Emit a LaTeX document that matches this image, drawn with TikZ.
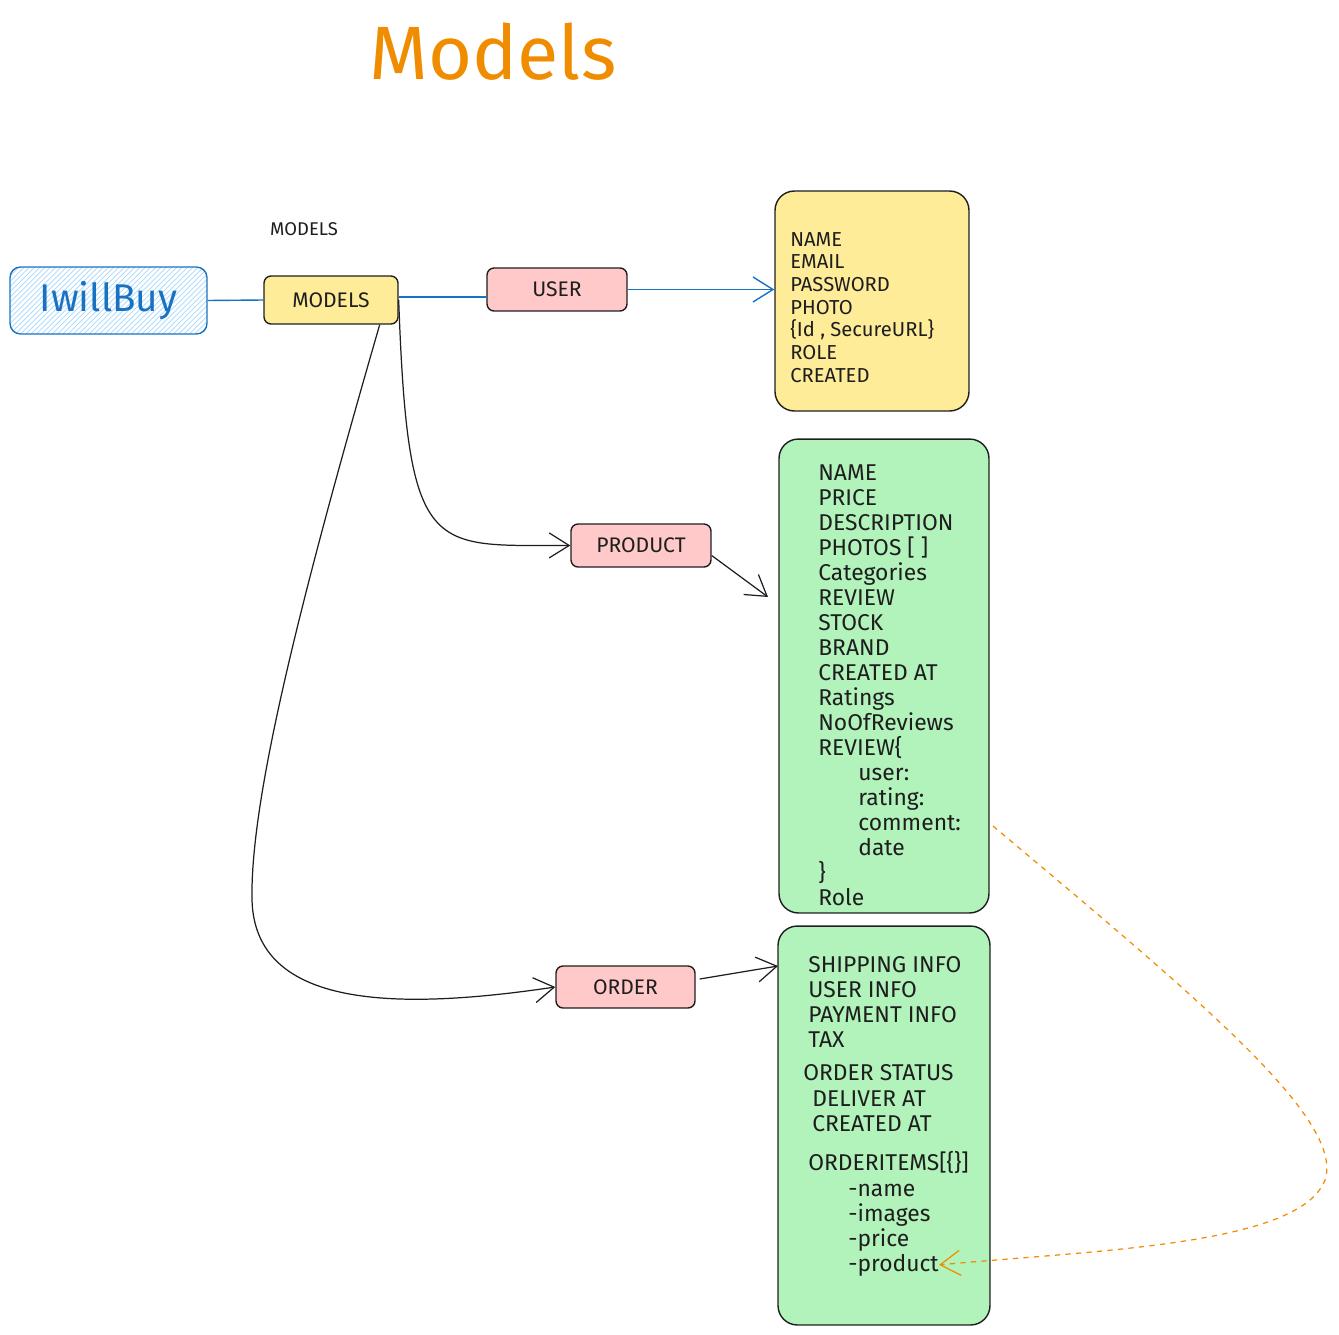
\documentclass[tikz,border=0pt]{standalone}
\usepackage{fontspec}
\setmainfont{Fira Sans}
\usetikzlibrary{arrows.meta,patterns}

\definecolor{ink}{HTML}{1E1E1E}
\definecolor{skyblue}{HTML}{1971C2}
\definecolor{skyhatch}{HTML}{A5D8FF}
\definecolor{noteyellow}{HTML}{FFEC99}
\definecolor{notepink}{HTML}{FFC9C9}
\definecolor{notegreen}{HTML}{B2F2BB}
\definecolor{titleorange}{HTML}{F08C00}

\tikzset{
  tag/.style={draw=ink, line width=0.8pt, rounded corners=4pt, inner sep=0pt,
    font=\fontsize{12}{14}\selectfont, text=ink},
  sheet/.style={draw=ink, line width=0.8pt, rounded corners=11pt, inner sep=0pt},
  field/.style={anchor=base west, inner sep=0pt, text=ink},
  barb/.style={-{Straight Barb[length=4mm,width=5mm]}},
  link/.style={draw=ink, line width=0.7pt, barb},
}

\begin{document}
\begin{tikzpicture}[x=0.02cm, y=-0.02cm]
  \useasboundingbox (0,0) rectangle (1339,1335);

  % titulo
  \node[text=titleorange, font=\fontsize{43}{50}\selectfont] (title) at (493,52) {Models};
  \node[text=ink, font=\fontsize{10.5}{12}\selectfont] (caption) at (304,229) {MODELS};

  % cajas principales
  \node[draw=skyblue, line width=0.8pt, rounded corners=6pt, pattern=north east lines,
        pattern color=skyhatch, minimum width=3.94cm, minimum height=1.34cm,
        text=skyblue, font=\fontsize{22}{26}\selectfont] (shop) at (108.5,300.5) {IwillBuy};
  \node[tag, fill=noteyellow, minimum width=2.68cm, minimum height=0.96cm] (models) at (331,300) {MODELS};
  \node[tag, fill=notepink, minimum width=2.8cm, minimum height=0.86cm] (user) at (557,289.5) {USER};
  \node[tag, fill=notepink, minimum width=2.8cm, minimum height=0.86cm] (product) at (641,545.5) {PRODUCT};
  \node[tag, fill=notepink, minimum width=2.78cm, minimum height=0.84cm] (order) at (625.5,987) {ORDER};

  % hojas de campos
  \node[sheet, fill=noteyellow, minimum width=3.88cm, minimum height=4.4cm] (userfields) at (872,301) {};
  \node[sheet, fill=notegreen, minimum width=4.2cm, minimum height=9.48cm] (productfields) at (884,676) {};
  \node[sheet, fill=notegreen, minimum width=4.24cm, minimum height=7.98cm] (orderfields) at (884,1125.5) {};

  % campos de USER
  \foreach \txt [count=\i] in {NAME, EMAIL, PASSWORD, PHOTO, {\{Id , SecureURL\}}, ROLE, CREATED}
    \node[field, font=\fontsize{11.5}{13}\selectfont] (u\i) at (790,{223.3+22.7*\i}) {\txt};

  % campos de PRODUCT
  \foreach \txt [count=\i] in {NAME, PRICE, DESCRIPTION, {PHOTOS [ ]}, Categories, REVIEW, STOCK, BRAND,
      CREATED AT, Ratings, NoOfReviews, REVIEW\{, {\hspace*{0.8cm}user:}, {\hspace*{0.8cm}rating:},
      {\hspace*{0.8cm}comment:}, {\hspace*{0.8cm}date}, \}, Role}
    \node[field, font=\fontsize{13}{15}\selectfont] (p\i) at (818,{455+25*\i}) {\txt};

  % campos de ORDER
  \foreach \x/\y/\txt [count=\i] in {808/972/SHIPPING INFO, 808/997/USER INFO, 808/1022/PAYMENT INFO,
      808/1047/TAX, 803/1080/ORDER STATUS, 812/1106/DELIVER AT, 812/1131/CREATED AT,
      808/1170/{ORDERITEMS[\{\}]}, 848/1196/-name, 848/1221/-images, 848/1246/-price, 848/1271/-product}
    \node[field, font=\fontsize{13}{15}\selectfont] (o\i) at (\x,\y) {\txt};

  % conexiones
  \draw[skyblue, line width=0.8pt] (shop.east) -- (models.west);
  \draw[skyblue, line width=0.8pt] ([yshift=0.06cm]models.east) -- ([yshift=0.06cm]models.east -| user.west);
  \draw[skyblue, line width=0.8pt, barb] (user.east) -- (user.east -| userfields.west);

  \draw[link] (models.east) .. controls (408,560) and (430,545) .. (product.west);
  \coordinate (prodin) at (768,597);
  \draw[link] ([yshift=-0.2cm]product.east) -- (prodin);

  \draw[link] ([xshift=-0.38cm]models.south east) .. controls (300,600) and (250,800) .. (252,900)
    .. controls (255,1010) and (400,1010) .. (order.west);
  \coordinate (ordin) at (778,966);
  \draw[link] ([xshift=0.08cm,yshift=0.16cm]order.east) -- (ordin);

  % referencia product
  \coordinate (refstart) at (993,826);
  \draw[titleorange, line width=0.7pt, dashed, barb] (refstart) .. controls (1200,1000) and (1345,1120) .. (1325,1180)
    .. controls (1300,1245) and (1100,1250) .. (o12.east);
\end{tikzpicture}
\end{document}
